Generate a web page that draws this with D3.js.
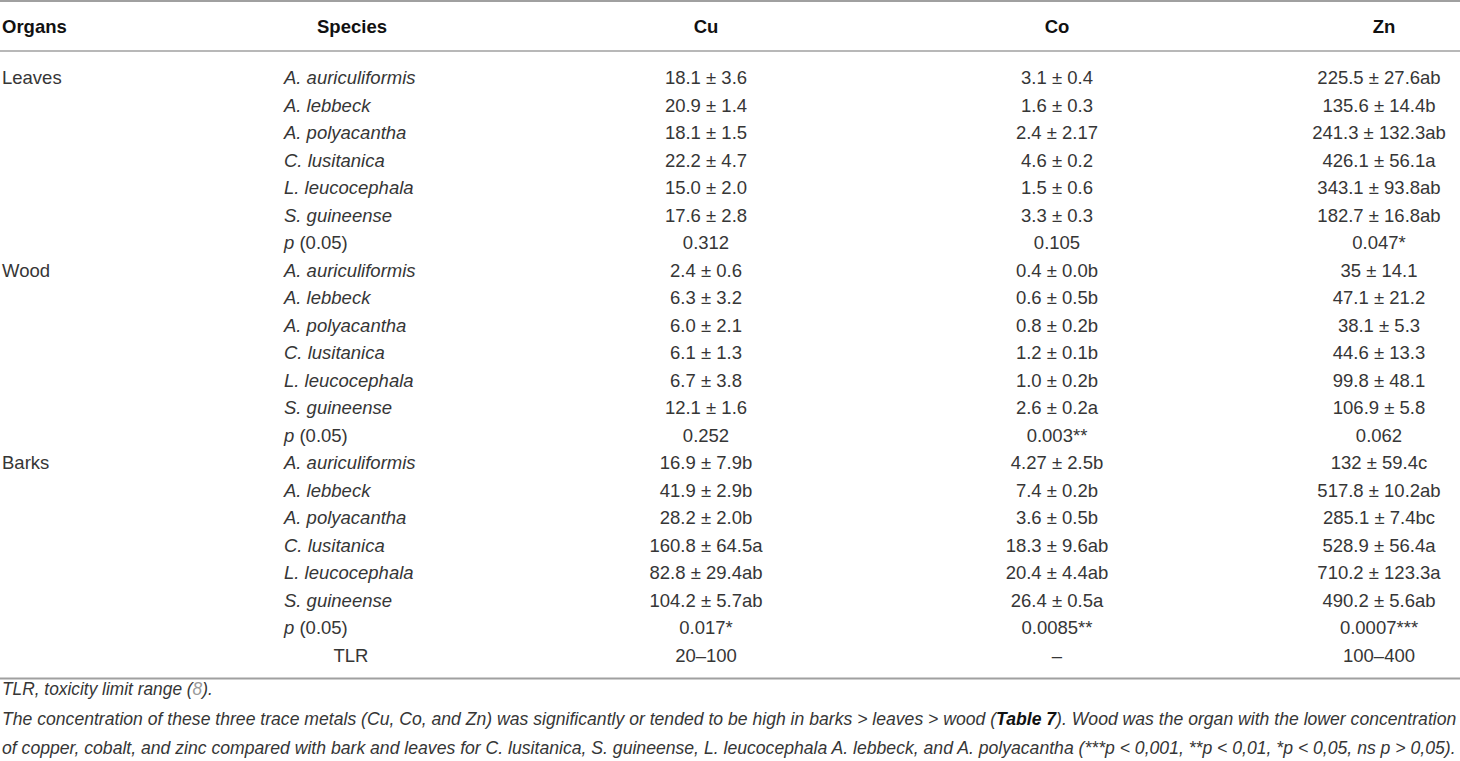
<!DOCTYPE html>
<html>
<head>
<meta charset="utf-8">
<script src="https://cdn.jsdelivr.net/npm/d3@7"></script>
<style>
  html, body { margin: 0; padding: 0; background: #fff; }
  svg { display: block; }
  text { font-family: "Liberation Sans", Arial, sans-serif; }
</style>
</head>
<body>
<div id="chart"></div>
<script>
// Table content
const headers = ["Organs", "Species", "Cu", "Co", "Zn"];
const organs = ["Leaves", "Wood", "Barks"];
const species = ["A. auriculiformis", "A. lebbeck", "A. polyacantha", "C. lusitanica", "L. leucocephala", "S. guineense"];

const cuLeaves = ["18.1 ± 3.6", "20.9 ± 1.4", "18.1 ± 1.5", "22.2 ± 4.7", "15.0 ± 2.0", "17.6 ± 2.8", "0.312"];
const coLeaves = ["3.1 ± 0.4", "1.6 ± 0.3", "2.4 ± 2.17", "4.6 ± 0.2", "1.5 ± 0.6", "3.3 ± 0.3", "0.105"];
const znLeaves = ["225.5 ± 27.6ab", "135.6 ± 14.4b", "241.3 ± 132.3ab", "426.1 ± 56.1a", "343.1 ± 93.8ab", "182.7 ± 16.8ab", "0.047*"];

const cuWood = ["2.4 ± 0.6", "6.3 ± 3.2", "6.0 ± 2.1", "6.1 ± 1.3", "6.7 ± 3.8", "12.1 ± 1.6", "0.252"];
const coWood = ["0.4 ± 0.0b", "0.6 ± 0.5b", "0.8 ± 0.2b", "1.2 ± 0.1b", "1.0 ± 0.2b", "2.6 ± 0.2a", "0.003**"];
const znWood = ["35 ± 14.1", "47.1 ± 21.2", "38.1 ± 5.3", "44.6 ± 13.3", "99.8 ± 48.1", "106.9 ± 5.8", "0.062"];

const cuBarks = ["16.9 ± 7.9b", "41.9 ± 2.9b", "28.2 ± 2.0b", "160.8 ± 64.5a", "82.8 ± 29.4ab", "104.2 ± 5.7ab", "0.017*"];
const coBarks = ["4.27 ± 2.5b", "7.4 ± 0.2b", "3.6 ± 0.5b", "18.3 ± 9.6ab", "20.4 ± 4.4ab", "26.4 ± 0.5a", "0.0085**"];
const znBarks = ["132 ± 59.4c", "517.8 ± 10.2ab", "285.1 ± 7.4bc", "528.9 ± 56.4a", "710.2 ± 123.3a", "490.2 ± 5.6ab", "0.0007***"];

const tlrLabel = "TLR";
const tlrValues = ["20–100", "–", "100–400"];

const footnote1 = [{t: "TLR, toxicity limit range ("}, {t: "8", link: true}, {t: ")."}];
const footnote2 = [
    {t: "The concentration of these three trace metals (Cu, Co, and Zn) was significantly or tended to be high in barks > leaves > wood ("},
    {t: "Table 7", bold: true},
    {t: "). Wood was the organ with the lower concentration"}
];
const footnote3 = [{t: "of copper, cobalt, and zinc compared with bark and leaves for C. lusitanica, S. guineense, L. leucocephala A. lebbeck, and A. polyacantha (***p < 0,001, **p < 0,01, *p < 0,05, ns p > 0,05)."}];

// Build the row list from the arrays
const groups = [
    {organ: organs[0], cu: cuLeaves, co: coLeaves, zn: znLeaves},
    {organ: organs[1], cu: cuWood, co: coWood, zn: znWood},
    {organ: organs[2], cu: cuBarks, co: coBarks, zn: znBarks}
];
const rows = [];
groups.forEach(g => {
    g.cu.forEach((_, i) => {
        rows.push({
            organ: i === 0 ? g.organ : "",
            species: i < species.length ? species[i] : null,
            isP: i === species.length,
            values: [g.cu[i], g.co[i], g.zn[i]]
        });
    });
});
rows.push({organ: "", species: tlrLabel, isP: false, plain: true, values: tlrValues});

// Layout
const width = 1460, height = 761;
const fontSize = 18.5;
const textColor = "#363636";
const ruleColor = "#a0a0a0";

const svg = d3.select("#chart")
    .append("svg")
    .attr("width", width)
    .attr("height", height);

// Row scale: baselines of body rows
const y = d3.scaleLinear()
    .domain([0, rows.length - 1])
    .range([84, 661.5]);

// Column anchors
const valueCols = ["Cu", "Co", "Zn"];
const xVal = d3.scaleOrdinal().domain(valueCols).range([706, 1057, 1379]);
const xOrgan = 2, xSpecies = 284;

// Rules
[{y: 1, w: 2}, {y: 51, w: 1.5}, {y: 678.5, w: 2}].forEach(r => {
    svg.append("line")
        .attr("x1", 0).attr("x2", width)
        .attr("y1", r.y).attr("y2", r.y)
        .attr("stroke", ruleColor)
        .attr("stroke-width", r.w);
});

// Header
const headerX = [xOrgan, 352, xVal("Cu"), xVal("Co"), 1384];
svg.append("g").selectAll("text")
    .data(headers)
    .join("text")
    .attr("x", (d, i) => headerX[i])
    .attr("y", 33)
    .attr("text-anchor", (d, i) => i === 0 ? "start" : "middle")
    .style("font-size", fontSize + "px")
    .style("font-weight", "bold")
    .attr("fill", "#111")
    .text(d => d);

// Body rows
const body = svg.append("g")
    .style("font-size", fontSize + "px")
    .attr("fill", textColor);

const rowG = body.selectAll("g.row")
    .data(rows)
    .join("g")
    .attr("class", "row")
    .attr("transform", (d, i) => `translate(0,${y(i)})`);

rowG.append("text")
    .attr("x", xOrgan)
    .text(d => d.organ);

rowG.append("text")
    .attr("x", xSpecies)
    .each(function(d) {
        const t = d3.select(this);
        if (d.isP) {
            t.append("tspan").style("font-style", "italic").text("p");
            t.append("tspan").text(" (0.05)");
        } else if (d.plain) {
            t.text(d.species);
        } else {
            t.style("font-style", "italic").text(d.species);
        }
    });

// TLR label is centred in the species column
rowG.filter(d => d.plain).select("text:nth-child(2)")
    .attr("x", 351)
    .attr("text-anchor", "middle");

valueCols.forEach((c, k) => {
    rowG.append("text")
        .attr("x", xVal(c))
        .attr("text-anchor", "middle")
        .text(d => d.values[k]);
});

// Footnotes, squeezed to the widths seen in the picture
function footnote(parts, baseline, target) {
    const t = svg.append("text")
        .attr("x", 0)
        .attr("y", 0)
        .style("font-size", "17.5px")
        .style("font-style", "italic")
        .attr("fill", textColor);
    parts.forEach(p => {
        const s = t.append("tspan").text(p.t);
        if (p.bold) s.style("font-weight", "bold").attr("fill", "#111");
        if (p.link) s.attr("fill", "#9a9a9a");
    });
    const w = t.node().getComputedTextLength();
    t.attr("transform", `translate(2,${baseline}) scale(${target / w},1)`);
}
footnote(footnote1, 695, 211);
footnote(footnote2, 725, 1455);
footnote(footnote3, 754, 1455);
</script>
</body>
</html>
